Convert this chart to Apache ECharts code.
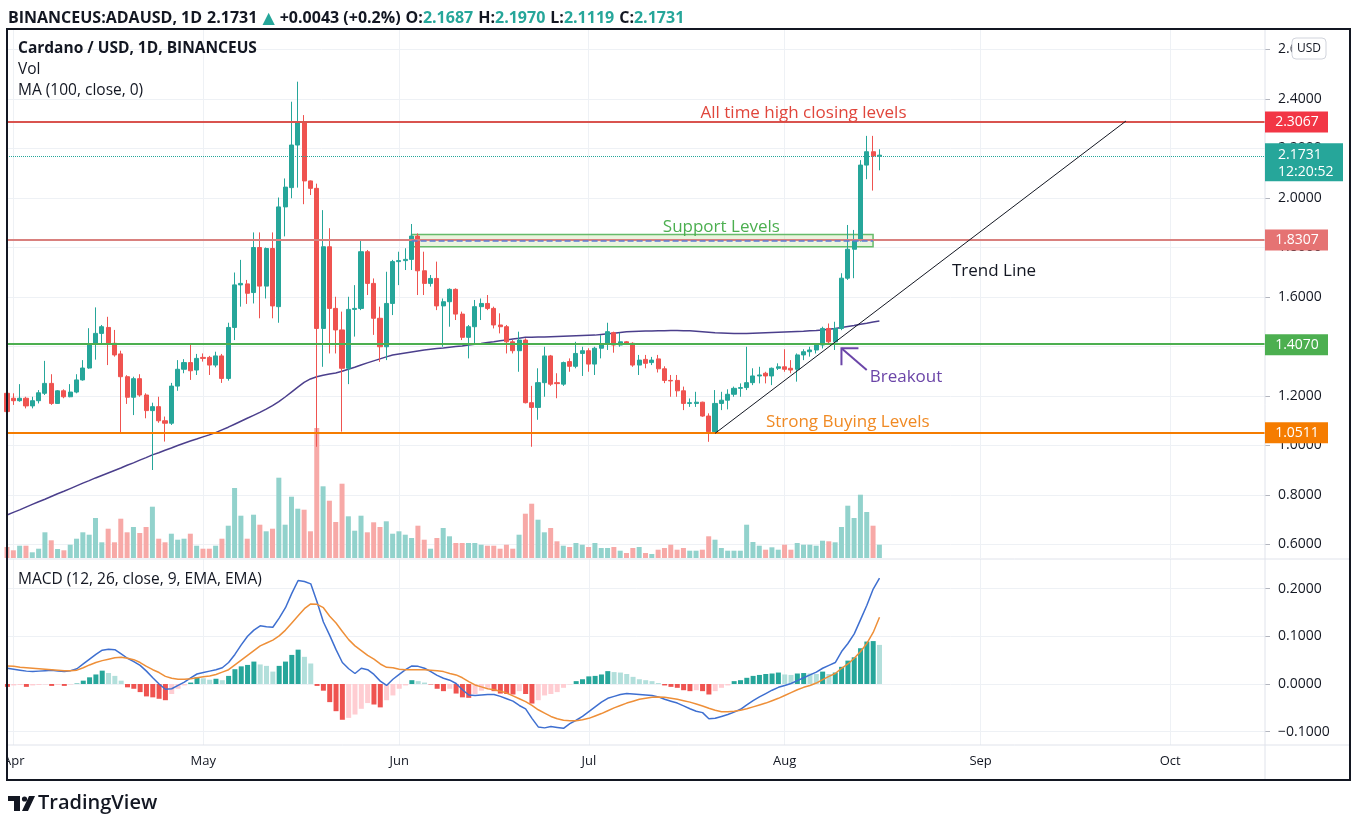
<!DOCTYPE html>
<html>
<head>
<meta charset="utf-8">
<title>BINANCEUS:ADAUSD 1D</title>
<script src="https://cdn.jsdelivr.net/npm/echarts@6.0.0/dist/echarts.min.js"></script>
<style>
  html, body { margin: 0; padding: 0; background: #fff; }
  #chart { width: 1359px; height: 827px; }
</style>
</head>
<body>
<div id="chart"></div>
<script>
// daily candles, 2021-03-31 .. 2021-08-16
const opens = [1.211,1.191,1.181,1.191,1.160,1.181,1.211,1.251,1.170,1.221,
  1.197,1.216,1.265,1.313,1.409,1.453,1.477,1.413,1.370,1.278,
  1.195,1.270,1.204,1.141,1.157,1.100,1.090,1.240,1.308,1.335,
  1.305,1.356,1.356,1.325,1.362,1.271,1.477,1.649,1.653,1.618,
  1.800,1.644,1.796,1.561,1.964,2.042,2.214,2.308,2.069,2.039,
  1.473,1.803,1.554,1.467,1.312,1.550,1.554,1.783,1.655,1.514,
  1.399,1.574,1.743,1.747,1.752,1.846,1.706,1.655,1.675,1.564,
  1.581,1.631,1.531,1.437,1.480,1.561,1.574,1.554,1.487,1.480,
  1.419,1.383,1.426,1.173,1.154,1.254,1.362,1.254,1.248,1.339,
  1.320,1.372,1.383,1.329,1.393,1.411,1.456,1.406,1.419,1.413,
  1.325,1.348,1.335,1.350,1.310,1.263,1.263,1.221,1.170,1.170,
  1.175,1.119,1.056,1.170,1.183,1.207,1.231,1.234,1.254,1.281,
  1.292,1.281,1.312,1.318,1.312,1.308,1.366,1.379,1.386,1.406,
  1.473,1.419,1.473,1.676,1.793,1.828,2.133,2.187,2.1687]
const closes = [1.137,1.181,1.191,1.160,1.181,1.213,1.251,1.170,1.221,1.197,
  1.216,1.265,1.313,1.409,1.453,1.480,1.409,1.366,1.278,1.195,
  1.270,1.204,1.141,1.157,1.100,1.090,1.240,1.308,1.335,1.302,
  1.352,1.352,1.325,1.362,1.271,1.477,1.649,1.655,1.615,1.800,
  1.644,1.796,1.564,1.964,2.044,2.214,2.308,2.069,2.039,1.473,
  1.803,1.554,1.467,1.312,1.550,1.554,1.783,1.655,1.514,1.399,
  1.574,1.743,1.747,1.752,1.846,1.706,1.655,1.675,1.564,1.581,
  1.631,1.531,1.437,1.480,1.561,1.574,1.554,1.487,1.480,1.419,
  1.383,1.426,1.173,1.154,1.254,1.362,1.248,1.250,1.335,1.320,
  1.372,1.383,1.329,1.393,1.411,1.460,1.406,1.419,1.413,1.325,
  1.345,1.332,1.345,1.310,1.263,1.261,1.221,1.170,1.173,1.175,
  1.119,1.056,1.170,1.183,1.207,1.231,1.234,1.254,1.281,1.285,
  1.281,1.312,1.318,1.308,1.305,1.366,1.379,1.386,1.406,1.473,
  1.419,1.473,1.676,1.793,1.828,2.133,2.187,2.170,2.1731]
const highs = [1.218,1.211,1.248,1.197,1.197,1.224,1.342,1.288,1.224,1.227,
  1.248,1.288,1.345,1.474,1.558,1.487,1.520,1.467,1.383,1.284,
  1.278,1.288,1.211,1.173,1.197,1.117,1.253,1.345,1.349,1.406,
  1.370,1.372,1.362,1.379,1.370,1.496,1.699,1.750,1.669,1.861,
  1.861,1.800,1.861,2.002,2.079,2.389,2.470,2.335,2.071,2.058,
  1.951,1.878,1.601,1.541,1.601,1.648,1.830,1.790,1.675,1.561,
  1.702,1.750,1.783,1.797,1.895,1.857,1.783,1.689,1.743,1.594,
  1.635,1.635,1.541,1.487,1.588,1.594,1.608,1.561,1.534,1.487,
  1.426,1.460,1.433,1.241,1.312,1.399,1.366,1.292,1.339,1.352,
  1.419,1.399,1.393,1.399,1.446,1.496,1.460,1.456,1.422,1.417,
  1.366,1.366,1.358,1.366,1.320,1.285,1.285,1.238,1.190,1.217,
  1.177,1.130,1.224,1.217,1.227,1.238,1.251,1.399,1.312,1.318,
  1.298,1.315,1.332,1.389,1.345,1.372,1.389,1.399,1.413,1.480,
  1.493,1.500,1.696,1.891,1.871,2.153,2.251,2.251,2.197]
const lows = [1.130,1.164,1.177,1.150,1.150,1.170,1.204,1.164,1.168,1.191,
  1.195,1.211,1.262,1.310,1.347,1.411,1.325,1.359,1.050,1.168,
  1.123,1.197,1.110,0.901,1.092,1.016,1.083,1.221,1.292,1.265,
  1.285,1.339,1.285,1.316,1.253,1.262,1.426,1.561,1.572,1.574,
  1.514,1.594,1.514,1.496,1.845,1.999,2.042,1.975,2.012,0.995,
  1.318,1.372,1.372,1.056,1.248,1.440,1.547,1.608,1.447,1.338,
  1.345,1.527,1.648,1.709,1.709,1.608,1.608,1.642,1.547,1.399,
  1.480,1.507,1.426,1.352,1.406,1.507,1.547,1.473,1.453,1.372,
  1.372,1.298,1.170,0.995,1.104,1.197,1.241,1.191,1.241,1.298,
  1.312,1.281,1.298,1.285,1.352,1.386,1.375,1.399,1.406,1.318,
  1.285,1.312,1.325,1.295,1.252,1.197,1.197,1.143,1.156,1.156,
  1.116,1.015,1.049,1.143,1.146,1.197,1.197,1.224,1.244,1.251,
  1.251,1.244,1.305,1.298,1.292,1.258,1.345,1.359,1.372,1.392,
  1.413,1.386,1.466,1.669,1.676,1.824,2.076,2.030,2.1119]
// volume (millions, relative)
const volumes = [11,7.7,12.3,12.3,5.7,9.3,25.7,17.7,9,7.7,
  13.3,19.3,25.7,23.3,40,15.7,29.3,15.7,39.3,25.7,
  31,25,31,51.3,19.3,15.7,24.3,18.3,19.3,24.3,
  12.3,9.3,9.3,12.3,19.3,32.3,70,42.3,19.3,43.3,
  33.3,26.7,29.3,80.3,33.3,61.3,49.3,48.3,26.7,130,
  71.7,57.3,36,74.3,41.7,27.3,42.3,25.7,35.7,31,
  36.7,24.3,26.7,23.3,20,32.3,18.3,9.3,20,30,
  21.7,15,15,15,15,13.3,12.3,12.3,9.3,13.3,
  9.3,23.3,44.3,54.3,38.3,25.7,30,16.7,12.3,11,
  15,13.3,11,15,10,10,11,7.3,5,10,
  11,5,4,8.3,10,13.3,8.3,10,7.3,7.3,
  8.3,21.7,18.3,10,7.3,7.3,7.3,33.3,16,12.3,
  8.3,10.7,8.3,13.3,8.3,15,13.3,13.3,12.3,17.3,
  16.7,15.7,31,52.3,40,63.3,46,32.3,13.3]
// MA (100, close)
const ma100 = [0.719,0.730,0.740,0.751,0.762,0.773,0.783,0.794,0.805,0.815,
  0.826,0.837,0.848,0.858,0.869,0.879,0.889,0.899,0.909,0.920,
  0.930,0.941,0.951,0.962,0.971,0.981,0.990,1.000,1.009,1.018,
  1.026,1.035,1.043,1.052,1.063,1.074,1.086,1.098,1.110,1.122,
  1.134,1.147,1.161,1.177,1.196,1.216,1.236,1.255,1.269,1.278,
  1.284,1.289,1.293,1.300,1.308,1.316,1.325,1.334,1.342,1.350,
  1.358,1.366,1.370,1.374,1.378,1.382,1.386,1.389,1.392,1.394,
  1.397,1.400,1.402,1.406,1.409,1.412,1.416,1.419,1.423,1.426,
  1.430,1.433,1.437,1.437,1.438,1.438,1.439,1.440,1.441,1.442,
  1.443,1.444,1.445,1.446,1.449,1.452,1.454,1.457,1.460,1.461,
  1.462,1.463,1.463,1.464,1.464,1.465,1.465,1.464,1.464,1.462,
  1.460,1.458,1.456,1.455,1.454,1.453,1.453,1.453,1.454,1.455,
  1.456,1.457,1.458,1.459,1.460,1.461,1.462,1.464,1.465,1.467,
  1.470,1.473,1.477,1.481,1.485,1.490,1.494,1.499,1.503]
// MACD (12, 26, 9)
const macdLine = [0.033,0.031,0.029,0.027,0.026,0.027,0.028,0.029,0.027,0.026,
  0.028,0.032,0.042,0.052,0.062,0.071,0.073,0.072,0.063,0.054,
  0.047,0.039,0.027,0.013,0.000,-0.011,-0.010,-0.003,0.004,0.013,
  0.021,0.024,0.027,0.030,0.034,0.045,0.062,0.082,0.100,0.113,
  0.122,0.120,0.119,0.138,0.160,0.190,0.217,0.215,0.210,0.172,
  0.130,0.102,0.072,0.045,0.032,0.022,0.033,0.030,0.020,0.006,
  -0.003,0.010,0.020,0.030,0.038,0.037,0.033,0.026,0.018,0.012,
  0.008,0.001,-0.012,-0.023,-0.024,-0.023,-0.022,-0.022,-0.026,-0.031,
  -0.036,-0.045,-0.052,-0.072,-0.090,-0.092,-0.089,-0.091,-0.093,-0.083,
  -0.076,-0.068,-0.058,-0.048,-0.038,-0.030,-0.026,-0.022,-0.020,-0.021,
  -0.022,-0.023,-0.024,-0.027,-0.032,-0.036,-0.040,-0.046,-0.052,-0.057,
  -0.060,-0.073,-0.072,-0.068,-0.064,-0.059,-0.053,-0.044,-0.035,-0.027,
  -0.020,-0.013,-0.007,-0.003,0.001,0.007,0.013,0.019,0.025,0.033,
  0.039,0.045,0.068,0.085,0.105,0.135,0.165,0.199,0.222]
const signalLine = [0.038,0.037,0.035,0.034,0.033,0.032,0.031,0.030,0.029,0.028,
  0.028,0.029,0.034,0.040,0.045,0.049,0.052,0.055,0.056,0.054,
  0.051,0.045,0.037,0.030,0.024,0.016,0.012,0.010,0.010,0.011,
  0.013,0.015,0.017,0.020,0.025,0.030,0.040,0.050,0.060,0.070,
  0.080,0.086,0.092,0.101,0.113,0.128,0.143,0.158,0.168,0.167,
  0.160,0.142,0.128,0.110,0.093,0.080,0.070,0.060,0.052,0.042,
  0.035,0.034,0.031,0.030,0.030,0.030,0.030,0.029,0.028,0.026,
  0.022,0.019,0.013,0.005,-0.002,-0.006,-0.010,-0.012,-0.015,-0.019,
  -0.025,-0.031,-0.037,-0.045,-0.054,-0.061,-0.068,-0.073,-0.076,-0.077,
  -0.077,-0.075,-0.072,-0.067,-0.062,-0.056,-0.050,-0.045,-0.040,-0.036,
  -0.032,-0.030,-0.028,-0.027,-0.028,-0.030,-0.032,-0.035,-0.038,-0.042,
  -0.046,-0.051,-0.055,-0.058,-0.058,-0.057,-0.055,-0.052,-0.048,-0.044,
  -0.040,-0.035,-0.030,-0.024,-0.018,-0.012,-0.007,-0.003,0.002,0.009,
  0.016,0.022,0.033,0.042,0.054,0.068,0.085,0.108,0.140]
const histogram = [-0.006,-0.003,-0.002,-0.006,-0.003,-0.002,-0.001,-0.004,-0.002,-0.004,
  -0.001,0.001,0.007,0.014,0.020,0.028,0.023,0.017,0.007,-0.007,
  -0.010,-0.017,-0.026,-0.028,-0.031,-0.034,-0.021,-0.010,-0.003,0.003,
  0.014,0.012,0.009,0.011,0.008,0.017,0.031,0.037,0.040,0.047,
  0.041,0.038,0.026,0.038,0.047,0.061,0.072,0.057,0.043,-0.004,
  -0.014,-0.038,-0.057,-0.075,-0.071,-0.064,-0.052,-0.040,-0.043,-0.049,
  -0.034,-0.024,-0.010,-0.003,0.008,0.006,0.003,-0.001,-0.010,-0.015,
  -0.010,-0.020,-0.028,-0.029,-0.021,-0.014,-0.008,-0.015,-0.020,-0.021,
  -0.022,-0.015,-0.021,-0.041,-0.034,-0.024,-0.021,-0.017,-0.008,-0.001,
  0.006,0.010,0.016,0.017,0.020,0.027,0.025,0.024,0.021,0.015,
  0.010,0.008,0.006,0.002,-0.003,-0.006,-0.008,-0.013,-0.015,-0.013,
  -0.015,-0.022,-0.015,-0.008,-0.003,0.006,0.008,0.013,0.017,0.019,
  0.021,0.022,0.024,0.020,0.019,0.022,0.023,0.022,0.021,0.026,
  0.021,0.024,0.036,0.049,0.056,0.075,0.089,0.090,0.082]

// axis ticks
const priceTicks = [0.6, 0.8, 1.0, 1.2, 1.4, 1.6, 1.8, 2.0, 2.2, 2.4, 2.6]
const macdTicks = [-0.1, 0, 0.1, 0.2]
const monthNames = ['Jan', 'Feb', 'Mar', 'Apr', 'May', 'Jun', 'Jul', 'Aug', 'Sep', 'Oct', 'Nov', 'Dec']

// drawn levels
const athLevel = 2.3067
const resistanceLevel = 1.8307
const breakoutLevel = 1.4070
const buyingLevel = 1.0511
const lastPrice = 2.1731
const supportBand = [1.853, 1.828, 1.803] // top, middle, bottom
const supportRange = [64, 137] // day index
const trendLine = [[112, 1.049], [177, 2.311]]

// time scale: one category a day, runs past the data
const dates = []
for (let i = 0; i < 200; i++) {
  const d = new Date(Date.UTC(2021, 2, 31 + i))
  dates.push(d.toISOString().slice(0, 10))
}

const FONT = '"Open Sans", "DejaVu Sans", sans-serif'
const TEXT = '#131722'
const UP = '#26a69a'
const DOWN = '#ef5350'
const GRID = '#eef1f5'

const candles = opens.map((o, i) => [o, closes[i], lows[i], highs[i]])
const volumeData = volumes.map((v, i) => ({
  value: v,
  itemStyle: { color: closes[i] >= opens[i] ? '#92d2cc' : '#f7a9a7' }
}))
const histData = histogram.map((v, i) => {
  const prev = i ? histogram[i - 1] : v
  let color
  if (v >= 0) color = v >= prev ? '#26a69a' : '#b2dfdb'
  else color = v <= prev ? '#ef5350' : '#ffcdd2'
  return { value: v, itemStyle: { color } }
})

const isMonthStart = (idx, value) => value.slice(8) === '01'

const chart = echarts.init(document.getElementById('chart'))

const option = {
  animation: false,
  backgroundColor: '#fff',
  title: {
    left: 8,
    top: 9,
    padding: 0,
    text: '{b|BINANCEUS:ADAUSD, 1D} {n|2.1731} {g|▲} {n|+0.0043 (+0.2%)} {b|O:}{g|2.1687} {b|H:}{g|2.1970} {b|L:}{g|2.1119} {b|C:}{g|2.1731}',
    textStyle: {
      rich: {
        b: { fontFamily: FONT, fontSize: 16, fontWeight: 'bold', color: TEXT },
        n: { fontFamily: FONT, fontSize: 16, color: TEXT },
        g: { fontFamily: FONT, fontSize: 16, color: UP }
      }
    }
  },
  grid: [
    { left: 7, top: 30, width: 1258, height: 528 },
    { left: 7, top: 559, width: 1258, height: 186 }
  ],
  xAxis: [
    {
      gridIndex: 0, type: 'category', data: dates, boundaryGap: false,
      axisLine: { show: false }, axisTick: { show: false }, axisLabel: { show: false },
      splitLine: { show: true, interval: isMonthStart, lineStyle: { color: GRID } }
    },
    {
      gridIndex: 1, type: 'category', data: dates, boundaryGap: false,
      axisLine: { show: false }, axisTick: { show: false },
      axisLabel: {
        show: true, interval: isMonthStart, margin: 10,
        color: TEXT, fontSize: 13, fontFamily: FONT,
        formatter: v => monthNames[Number(v.slice(5, 7)) - 1]
      },
      splitLine: { show: true, interval: isMonthStart, lineStyle: { color: GRID } }
    }
  ],
  yAxis: [
    {
      gridIndex: 0, type: 'value', position: 'right', min: 0.5455, max: 2.6788,
      axisLine: { show: false },
      axisTick: { show: true, length: 5, customValues: priceTicks, lineStyle: { color: '#b2b5be' } },
      axisLabel: {
        customValues: priceTicks, margin: 13, color: TEXT, fontSize: 14, fontFamily: FONT,
        formatter: v => v.toFixed(4)
      },
      splitLine: { show: true, lineStyle: { color: GRID } }
    },
    { gridIndex: 0, type: 'value', min: 0, max: 528, show: false },
    {
      gridIndex: 1, type: 'value', position: 'right', min: -0.1279, max: 0.2621,
      axisLine: { show: false },
      axisTick: { show: true, length: 5, customValues: macdTicks, lineStyle: { color: '#b2b5be' } },
      axisLabel: {
        customValues: macdTicks, margin: 13, color: TEXT, fontSize: 14, fontFamily: FONT,
        formatter: v => (v < 0 ? '\u2212' : '') + Math.abs(v).toFixed(4)
      },
      splitLine: { show: true, lineStyle: { color: GRID } }
    }
  ],
  series: [
    {
      name: 'ADAUSD', type: 'candlestick', xAxisIndex: 0, yAxisIndex: 0,
      data: candles, barWidth: 4.6, z: 3,
      itemStyle: { color: UP, color0: DOWN, borderColor: UP, borderColor0: DOWN, borderWidth: 1 },
      markArea: {
        silent: true,
        itemStyle: { color: 'rgba(139, 195, 74, 0.18)', borderColor: '#66bb6a', borderWidth: 1.5 },
        data: [[
          { coord: [dates[supportRange[0]], supportBand[0]] },
          { coord: [dates[supportRange[1]], supportBand[2]] }
        ]]
      },
      markLine: {
        silent: true, symbol: 'none', label: { show: false },
        data: [
          { yAxis: athLevel, lineStyle: { color: '#d9534f', width: 2, type: 'solid' } },
          { yAxis: resistanceLevel, lineStyle: { color: '#d9807e', width: 2, type: 'solid' } },
          { yAxis: breakoutLevel, lineStyle: { color: '#4caf50', width: 2, type: 'solid' } },
          { yAxis: buyingLevel, lineStyle: { color: '#f57c00', width: 2, type: 'solid' } },
          { yAxis: lastPrice, lineStyle: { color: UP, width: 1, type: 'dotted' } },
          [
            { coord: [dates[supportRange[0]], supportBand[1]], lineStyle: { color: '#5b7bd5', width: 1.5, type: 'dashed' } },
            { coord: [dates[supportRange[1]], supportBand[1]] }
          ],
          [
            { coord: [dates[trendLine[0][0]], trendLine[0][1]], lineStyle: { color: '#131722', width: 1, type: 'solid' } },
            { coord: [dates[trendLine[1][0]], trendLine[1][1]] }
          ]
        ]
      }
    },
    {
      name: 'Vol', type: 'bar', xAxisIndex: 0, yAxisIndex: 1,
      data: volumeData, barWidth: 5, z: 1, silent: true
    },
    {
      name: 'MA', type: 'line', xAxisIndex: 0, yAxisIndex: 0,
      data: ma100, showSymbol: false, z: 2, silent: true,
      lineStyle: { color: '#4b3f8c', width: 1.5 }
    },
    {
      name: 'Histogram', type: 'bar', xAxisIndex: 1, yAxisIndex: 2,
      data: histData, barWidth: 5, silent: true
    },
    {
      name: 'MACD', type: 'line', xAxisIndex: 1, yAxisIndex: 2,
      data: macdLine, showSymbol: false, silent: true,
      lineStyle: { color: '#3e6fd0', width: 1.5 }
    },
    {
      name: 'Signal', type: 'line', xAxisIndex: 1, yAxisIndex: 2,
      data: signalLine, showSymbol: false, silent: true,
      lineStyle: { color: '#ee8f38', width: 1.5 }
    }
  ]
}

chart.setOption(option)

// overlay: frame, legends, price tags and drawings
const yPx = v => chart.convertToPixel({ yAxisIndex: 0 }, v)
const pt = (i, v) => chart.convertToPixel({ seriesIndex: 0 }, [dates[i], v])

function text (x, y, str, color, size, align, weight) {
  return {
    type: 'text', z: 50, silent: true,
    style: {
      x, y, text: str, fill: color,
      font: (weight || 'normal') + ' ' + size + 'px ' + FONT,
      align: align || 'left', textAlign: align || 'left',
      verticalAlign: 'middle', textVerticalAlign: 'middle'
    }
  }
}
function line (x1, y1, x2, y2, color, w) {
  return { type: 'line', z: 40, silent: true, shape: { x1, y1, x2, y2 }, style: { stroke: color, lineWidth: w || 1 } }
}
function rect (x, y, w, h, fill, z, extra) {
  return { type: 'rect', z: z || 45, silent: true, shape: Object.assign({ x, y, width: w, height: h }, extra || {}), style: { fill } }
}

const g = []
// pane separators
g.push(line(7, 559, 1350, 559, '#e0e3eb'))
g.push(line(7, 745, 1350, 745, '#e0e3eb'))
g.push(line(1265, 29, 1265, 780, '#e0e3eb'))

// legends
g.push(text(18, 49, 'Cardano / USD, 1D, BINANCEUS', TEXT, 15.5, 'left', 'bold'))
g.push(text(18, 70, 'Vol', TEXT, 15.5))
g.push(text(18, 91, 'MA (100, close, 0)', TEXT, 15.5))
g.push(text(18, 580, 'MACD (12, 26, close, 9, EMA, EMA)', TEXT, 15.5))

// price tags on the scale
const tags = [
  [athLevel, '#f23645'],
  [resistanceLevel, '#e57373'],
  [breakoutLevel, '#4caf50'],
  [buyingLevel, '#f57c00']
]
tags.forEach(([v, c]) => {
  const y = yPx(v)
  g.push(rect(1265, y - 10.5, 63, 21, c))
  g.push(text(1297, y, v.toFixed(4), '#fff', 14, 'center'))
})
const yl = yPx(lastPrice)
g.push(rect(1265, yl - 12, 78, 38, UP))
g.push(text(1278, yl, lastPrice.toFixed(4), '#fff', 14))
g.push(text(1278, yl + 17, '12:20:52', '#fff', 14))

// USD badge
g.push({
  type: 'rect', z: 45, silent: true,
  shape: { x: 1292, y: 38, width: 34, height: 21, r: 4 },
  style: { fill: '#fff', stroke: '#d1d4dc', lineWidth: 1 }
})
g.push(text(1309, 48.5, 'USD', TEXT, 12, 'center'))

// drawing labels
let p = pt(126, athLevel)
g.push(text(p[0], p[1] - 9, 'All time high closing levels', '#e0463c', 17, 'center'))
p = pt(113, supportBand[0])
g.push(text(p[0], p[1] - 7, 'Support Levels', '#4caf50', 17, 'center'))
p = pt(133, buyingLevel)
g.push(text(p[0], p[1] - 11, 'Strong Buying Levels', '#f08a24', 17, 'center'))
p = pt(149, 1.705)
g.push(text(p[0] + 3, p[1], 'Trend Line', TEXT, 17))
p = pt(136, 1.277)
g.push(text(p[0] + 3, p[1], 'Breakout', '#6b45a8', 17))

// breakout arrow
const tip = pt(132, 1.393)
const tail = pt(136, 1.305)
g.push(line(tail[0], tail[1], tip[0], tip[1], '#6b45a8', 2))
g.push({
  type: 'polyline', z: 40, silent: true,
  shape: { points: [[tip[0] + 17, tip[1]], tip, [tip[0], tip[1] + 17]] },
  style: { stroke: '#6b45a8', lineWidth: 2, fill: null }
})

// frame
g.push(rect(0, 740, 7, 45, '#fff', 98))
g.push({
  type: 'rect', z: 99, silent: true,
  shape: { x: 7, y: 29, width: 1343, height: 751 },
  style: { fill: null, stroke: '#131722', lineWidth: 2 }
})

// TradingView mark
g.push(rect(8, 796, 12, 5, '#131722'))
g.push(rect(14, 796, 6, 15, '#131722'))
g.push({ type: 'circle', z: 45, silent: true, shape: { cx: 24.5, cy: 799, r: 2.6 }, style: { fill: '#131722' } })
g.push({
  type: 'polygon', z: 45, silent: true,
  shape: { points: [[22, 811], [28, 811], [35, 796], [29, 796]] },
  style: { fill: '#131722' }
})
g.push(text(38, 803, 'TradingView', '#131722', 20, 'left', '600'))

chart.setOption({ graphic: g })
</script>
</body>
</html>
